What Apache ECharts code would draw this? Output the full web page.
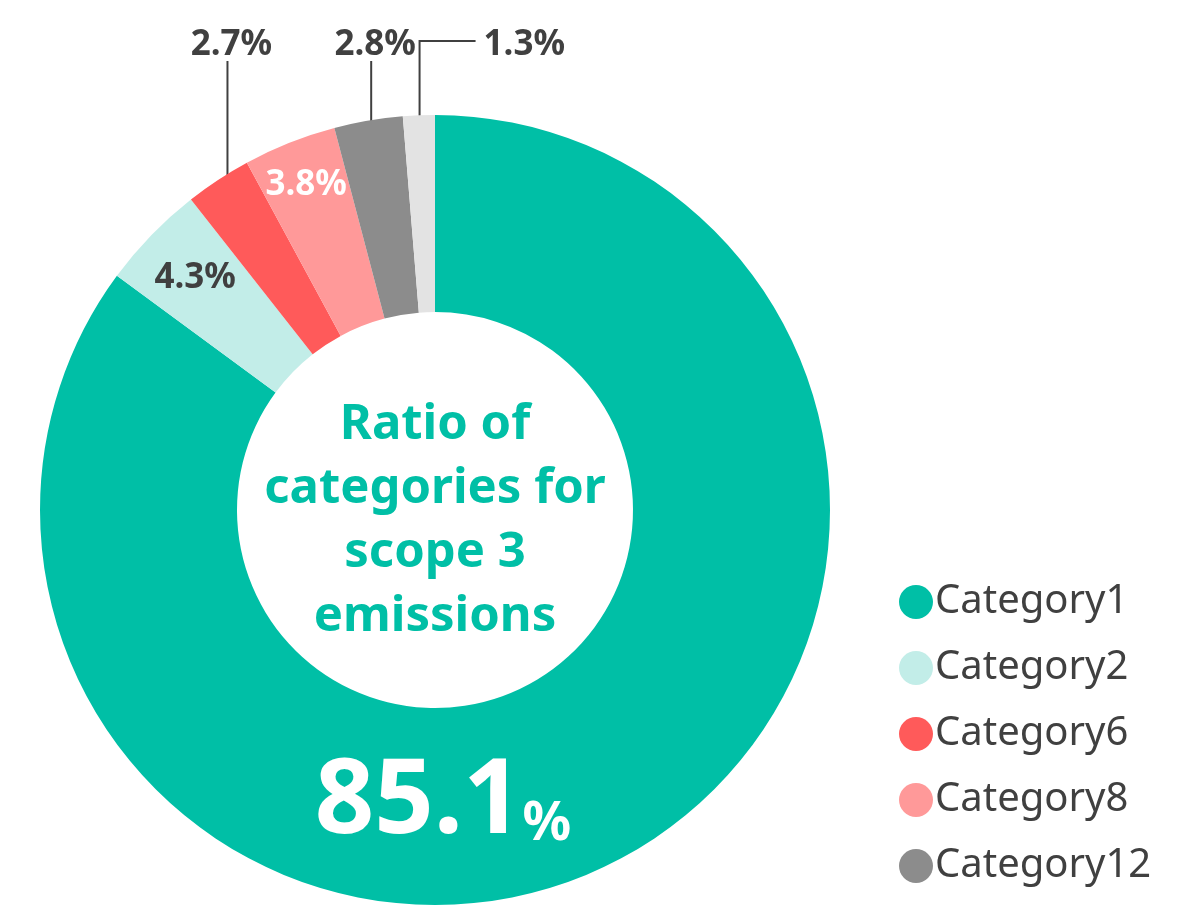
<!DOCTYPE html>
<html>
<head>
<meta charset="utf-8">
<script src="https://cdn.jsdelivr.net/npm/echarts@6/dist/echarts.min.js"></script>
<style>
html,body{margin:0;padding:0;background:#fff;}
#chart{width:1180px;height:909px;}
</style>
</head>
<body>
<div id="chart"></div>
<script>
const names = ['Category1', 'Category2', 'Category6', 'Category8', 'Category12', 'Others'];
const values = [85.1, 4.3, 2.7, 3.8, 2.8, 1.3];
const colors = ['#00BFA6', '#C2EDE8', '#FF5A5A', '#FF9999', '#8C8C8C', '#E3E3E3'];
const legendNames = ['Category1', 'Category2', 'Category6', 'Category8', 'Category12'];
const labelModes = ['big', 'inside', 'outside', 'inside', 'outside', 'outsideRight'];
const labelColors = ['#FFFFFF', '#404040', '#404040', '#FFFFFF', '#404040', '#404040'];
const centerTitle = 'Ratio of\ncategories for\nscope 3\nemissions';

const FONT = '"Noto Sans", Lato, sans-serif';
const CX = 435, CY = 510, R0 = 198, R = 395;
const TEXT = '#404040';
const insideRadius = {1: 334, 3: 350};

const total = values.reduce((a, b) => a + b, 0);
const midAngles = [];
let acc = 0;
values.forEach(v => { midAngles.push((acc + v / 2) / total * 2 * Math.PI); acc += v; });

function polar(a, r) { return [CX + r * Math.sin(a), CY - r * Math.cos(a)]; }

const chart = echarts.init(document.getElementById('chart'), null, {renderer: 'canvas'});

const data = names.map((n, i) => {
  const mode = labelModes[i];
  const item = {name: n, value: values[i], itemStyle: {color: colors[i]}};
  if (mode === 'big') {
    item.label = {
      show: true, position: 'inside',
      formatter: '{big|' + values[i] + '}{pct|%}',
      rich: {
        big: {fontSize: 104, fontWeight: 'bold', color: '#fff', fontFamily: FONT, verticalAlign: 'bottom'},
        pct: {fontSize: 54, fontWeight: 'bold', color: '#fff', fontFamily: FONT, verticalAlign: 'bottom', padding: [0, 0, 3, 0]}
      }
    };
  } else if (mode === 'inside') {
    item.label = {show: true, position: 'inside', formatter: values[i] + '%', color: labelColors[i], fontSize: 35, fontWeight: 'bold', fontFamily: FONT};
  } else {
    item.label = {show: true, position: 'outside', formatter: values[i] + '%', color: labelColors[i], fontSize: 35, fontWeight: 'bold', fontFamily: FONT};
    item.labelLine = {show: true, lineStyle: {color: TEXT, width: 2}};
  }
  return item;
});

const option = {
  animation: false,
  backgroundColor: '#fff',
  legend: {
    data: legendNames,
    orient: 'vertical',
    left: 899, top: 582,
    padding: 0,
    height: 320,
    icon: 'circle',
    itemWidth: 34, itemHeight: 34, itemGap: 26,
    textStyle: {fontSize: 40, color: TEXT, fontFamily: FONT, lineHeight: 34, padding: [0, 0, 0, -3]},
    selectedMode: false
  },
  graphic: [{
    type: 'text', x: CX, y: 393, z: 100,
    style: {
      text: centerTitle, textAlign: 'center', textVerticalAlign: 'top',
      fontSize: 49, fontWeight: 'bold', fontFamily: FONT, lineHeight: 64, fill: '#00BFA6'
    }
  }],
  series: [{
    type: 'pie',
    center: [CX, CY],
    radius: [R0, R],
    startAngle: 90,
    clockwise: true,
    avoidLabelOverlap: false,
    emphasis: {disabled: true},
    itemStyle: {borderWidth: 0},
    labelLine: {show: false},
    data: data,
    labelLayout: function (params) {
      const i = params.dataIndex;
      const mode = labelModes[i];
      const a = midAngles[i];
      if (mode === 'big') {
        return {x: CX + 8, y: CY + 293, align: 'center', verticalAlign: 'middle'};
      }
      if (mode === 'inside') {
        const p = polar(a, insideRadius[i] || 342);
        return {x: p[0], y: p[1], align: 'center', verticalAlign: 'middle'};
      }
      const s = polar(a, 378);
      if (mode === 'outside') {
        return {x: s[0] + 4, y: 45, align: 'center', verticalAlign: 'middle',
          labelLinePoints: [[s[0], s[1]], [s[0], 61], [s[0], 61]]};
      }
      return {x: s[0] + 64, y: 45, align: 'left', verticalAlign: 'middle',
        labelLinePoints: [[s[0], s[1]], [s[0], 41], [s[0] + 56, 41]]};
    }
  }]
};
chart.setOption(option);
</script>
</body>
</html>
